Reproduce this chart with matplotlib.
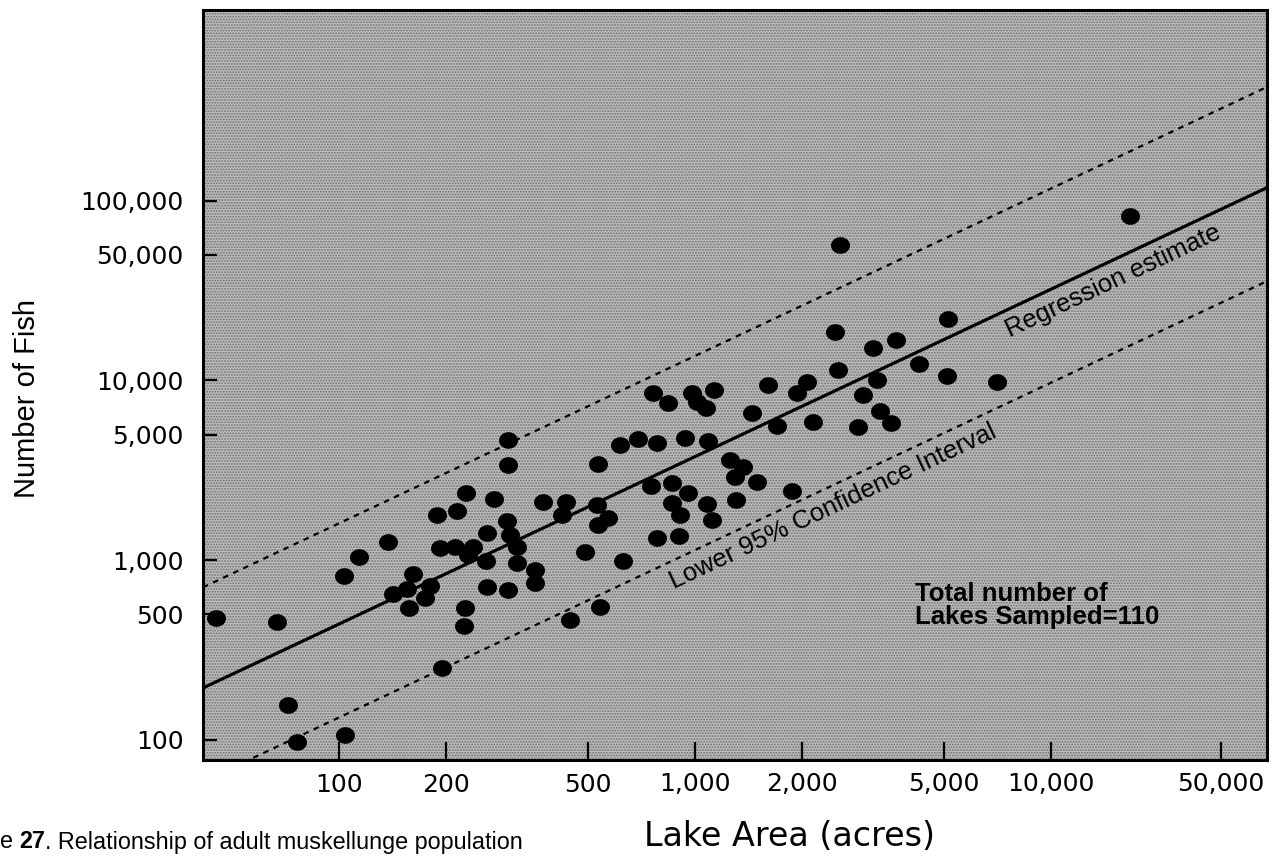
import numpy as np
import matplotlib.pyplot as plt
from matplotlib.path import Path
from matplotlib.patches import Rectangle

# lake area (acres) and adult muskellunge count per lake
lake_area = [45, 67, 72, 76, 104, 103, 114, 137, 142, 155,
             161, 157, 180, 175, 188, 195, 192, 212, 214, 224,
             226, 299, 299, 227, 272, 297, 261, 302, 238, 230,
             259, 316, 316, 356, 356, 261, 299, 374, 435, 423,
             535, 615, 692, 782, 840, 531, 535, 570, 491, 628,
             541, 446, 752, 861, 861, 782, 902, 2520, 2065, 1936,
             1603, 1131, 981, 762, 1013, 1074, 1446, 2965, 3243, 1698,
             2143, 2871, 3311, 3556, 937, 1088, 1254, 1364, 1295, 1493,
             1871, 956, 908, 1081, 1116, 1304, 2473, 3162, 3672, 4254,
             5100, 5140, 7050, 2550, 16700]
fish = [477, 454, 157, 97, 107, 818, 1040, 1265, 649, 692,
        840, 543, 719, 617, 1786, 252, 1170, 1186, 1879, 431,
        543, 4670, 3390, 2370, 2190, 1656, 1419, 1384, 1186, 1072,
        991, 1186, 966, 883, 748, 710, 684, 2109, 2109, 1786,
        3435, 4385, 4733, 4500, 7500, 2031, 1570, 1718, 1112, 991,
        550, 466, 2590, 2692, 2083, 1331, 1365, 11460, 9820, 8530,
        9460, 8870, 8530, 8530, 7600, 7050, 6610, 8320, 10080, 5590,
        5890, 5520, 6775, 5810, 4800, 4616, 3615, 3305, 2910, 2728,
        2432, 2370, 1786, 2056, 1675, 2166, 18660, 15170, 16830, 12360,
        10620, 22030, 9820, 56900, 82400]

# log10(fish) = intercept + slope * log10(area); band offsets in log10 units
reg_intercept = 0.783
reg_slope = 0.931
upper_offset = 0.56
lower_offset = 0.52

x_ticks = [100, 200, 500, 1000, 2000, 5000, 10000, 30000]
x_tick_labels = ['100', '200', '500', '1,000', '2,000', '5,000', '10,000', '50,000']
y_ticks = [100, 500, 1000, 5000, 10000, 50000, 100000]
y_tick_labels = ['100', '500', '1,000', '5,000', '10,000', '50,000', '100,000']

plt.rcParams['hatch.linewidth'] = 0.9

fig = plt.figure(figsize=(12.72, 8.57), dpi=100)
ax = fig.add_axes([203 / 1272, 97 / 857, 1064 / 1272, 750 / 857])
ax.set_xscale('log')
ax.set_yscale('log')
ax.set_xlim(41.5, 40500)
ax.set_ylim(77.4, 1.15e6)
ax.set_facecolor('#bcbcbc')
# stipple of the printed screen
ax.add_patch(Rectangle((0, 0), 1, 1, transform=ax.transAxes, fill=False,
                       hatch='......', edgecolor='#707070', lw=0, zorder=0))

# slightly flattened dots, like the printed ones
t = np.linspace(0, 2 * np.pi, 40)
dot = Path(np.column_stack([1.15 * np.cos(t), np.sin(t)]), closed=True)

ax.scatter(lake_area, fish, s=160, marker=dot, color='black', zorder=3)

xs = np.array(ax.get_xlim())
def fit(x, off=0.0):
    return 10 ** (reg_intercept + off + reg_slope * np.log10(x))

ax.plot(xs, fit(xs), color='black', lw=2.3, zorder=2)
ax.plot(xs, fit(xs, upper_offset), color='black', lw=1.6, ls=(0, (2.5, 2.5)), zorder=2)
ax.plot(xs, fit(xs, -lower_offset), color='black', lw=1.6, ls=(0, (2.5, 2.5)), zorder=2)

# screen angle of the fitted lines
p1 = ax.transData.transform((100, fit(100)))
p2 = ax.transData.transform((10000, fit(10000)))
angle = np.degrees(np.arctan2(p2[1] - p1[1], p2[0] - p1[0]))

ax.text(7300, fit(7300) * 0.9, 'Regression estimate', rotation=angle,
        rotation_mode='anchor', ha='left', va='top', fontsize=18.5,
        family='Liberation Sans')
ax.text(830, fit(830, -lower_offset) * 0.9, 'Lower 95% Confidence Interval',
        rotation=angle, rotation_mode='anchor', ha='left', va='top',
        fontsize=18.5, family='Liberation Sans')
ax.text(4150, 560, 'Total number of\nLakes Sampled=110', ha='left',
        va='center', fontsize=18.5, fontweight='bold', linespacing=0.95,
        family='Liberation Sans')

ax.set_xticks(x_ticks)
ax.set_xticklabels(x_tick_labels)
ax.set_yticks(y_ticks)
ax.set_yticklabels(y_tick_labels)
ax.minorticks_off()
ax.tick_params(axis='x', direction='in', length=13, width=1.6, pad=9, labelsize=18)
ax.tick_params(axis='y', direction='in', length=10, width=1.6, pad=14, labelsize=18)
for sp in ax.spines.values():
    sp.set_linewidth(2.2)

fig.text(27 / 1272, 1 - 398 / 857, 'Number of Fish', rotation=90, ha='center',
         va='center', fontsize=21, family='Liberation Sans')
fig.text(790 / 1272, 1 - 837 / 857, 'Lake Area (acres)', ha='center',
         va='center', fontsize=24, family='DejaVu Sans')

cap = fig.text(0.0, 1 - 842 / 857, 'e ', ha='left', va='center', fontsize=16.8,
               family='Liberation Sans')
cap = ax.annotate('27', xy=(1, 0), xycoords=cap, va='bottom', fontsize=16.8,
                  fontweight='bold', family='Liberation Sans')
ax.annotate('. Relationship of adult muskellunge population', xy=(1, 0),
            xycoords=cap, va='bottom', fontsize=16.8, family='Liberation Sans')

fig.savefig('out.png', dpi=100)
